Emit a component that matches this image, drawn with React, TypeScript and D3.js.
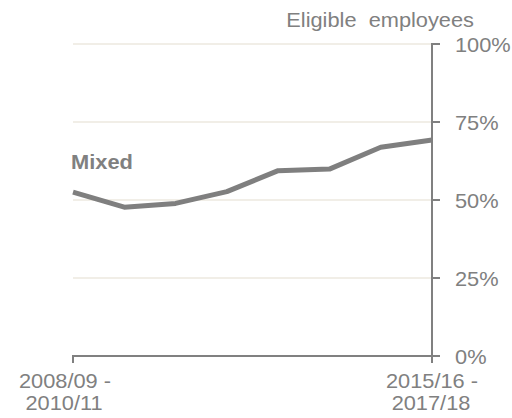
import React from "react";
import * as d3 from "d3";

const periods = ["2008/09 - 2010/11", "p2", "p3", "p4", "p5", "p6", "p7", "2015/16 - 2017/18"];
const mixedValues = [52.5, 47.7, 48.9, 52.7, 59.4, 59.9, 66.9, 69.2];
const yTicks = [0, 25, 50, 75, 100];
const xLabelsFirst = ["2008/09 -", "2010/11"];
const xLabelsLast = ["2015/16 -", "2017/18"];
const seriesName = "Mixed";
const axisTitle = "Eligible  employees";

const W = 512, H = 418;
const GRAY = "#808080";
const FONT = "'Liberation Sans', Arial, sans-serif";

function T({ x, y, children, anchor = "start", weight = 400, size = 20, sx = 1.09, fill = GRAY }: any) {
  return (
    <text
      transform={`translate(${x},${y}) scale(${sx},1)`}
      textAnchor={anchor}
      fontFamily={FONT}
      fontSize={size}
      fontWeight={weight}
      fill={fill}
      style={{ whiteSpace: "pre" }}
    >
      {children}
    </text>
  );
}

export default function App() {
  const x = d3.scalePoint<string>().domain(periods).range([73, 432]);
  const y = d3.scaleLinear().domain([0, 100]).range([356, 44]);
  const line = d3
    .line<number>()
    .x((_, i) => x(periods[i]) as number)
    .y((d) => y(d));
  const x0 = x(periods[0]) as number;
  const x1 = x(periods[periods.length - 1]) as number;

  return (
    <svg width={W} height={H} style={{ position: "absolute", left: 0, top: 0 }}>
      {yTicks.filter((t) => t > 0).map((t) => (
        <line key={t} x1={x0} x2={x1} y1={y(t)} y2={y(t)} stroke="#ece9df" strokeWidth={1.5} />
      ))}
      {/* right axis */}
      <line x1={x1} x2={x1} y1={y(100) - 1} y2={y(0) + 7} stroke={GRAY} strokeWidth={2} />
      {yTicks.map((t) => (
        <g key={t}>
          <line x1={x1} x2={x1 + 8} y1={y(t)} y2={y(t)} stroke={GRAY} strokeWidth={2} />
          <T x={455} y={y(t) + 7.5}>{t}%</T>
        </g>
      ))}
      {/* bottom axis */}
      <line x1={x0} x2={x1} y1={y(0)} y2={y(0)} stroke={GRAY} strokeWidth={2} />
      <line x1={x0} x2={x0} y1={y(0) - 1} y2={y(0) + 7} stroke={GRAY} strokeWidth={2} />
      <path d={line(mixedValues) || ""} fill="none" stroke="#7f7f7f" strokeWidth={5} strokeLinejoin="round" />
      <T x={71} y={169} weight={700} size={19.5} sx={1.12}>{seriesName}</T>
      <T x={474} y={27} anchor="end">{axisTitle}</T>
      <T x={65} y={388} anchor="middle">{xLabelsFirst[0]}</T>
      <T x={64} y={410} anchor="middle">{xLabelsFirst[1]}</T>
      <T x={432} y={388} anchor="middle">{xLabelsLast[0]}</T>
      <T x={431} y={410} anchor="middle">{xLabelsLast[1]}</T>
    </svg>
  );
}
